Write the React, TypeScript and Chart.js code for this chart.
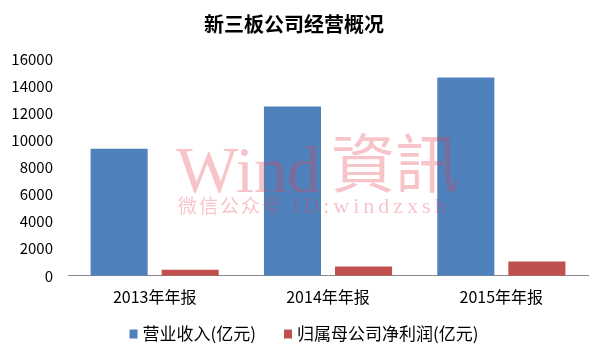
import React, { useEffect, useRef } from "react";
import { Chart, registerables } from "chart.js";

Chart.register(...registerables);

const title = "新三板公司经营概况";
const categories = ["2013年年报", "2014年年报", "2015年年报"];
const seriesNames = ["营业收入(亿元)", "归属母公司净利润(亿元)"];
const seriesColors = ["#4F81BD", "#C0504D"];
const revenue = [9370, 12490, 14630];
const netProfit = [450, 680, 1050];
const yTicks = [0, 2000, 4000, 6000, 8000, 10000, 12000, 14000, 16000];
const watermarkLatin = "Wind";
const watermarkCJK = "資訊";
const watermarkSubCJK = "微信公众号";
const watermarkSubLatin = "ID:windzxsh";

const FONT = "'Noto Sans CJK SC', 'Noto Sans', sans-serif";

const watermark = {
  id: "watermark",
  afterDatasetsDraw(chart: any) {
    const ctx = chart.ctx;
    ctx.save();
    ctx.fillStyle = "rgba(230,60,80,0.3)";
    ctx.textAlign = "left";
    ctx.textBaseline = "alphabetic";
    ctx.font = "66px 'Liberation Serif', serif";
    ctx.fillText(watermarkLatin, 176, 192);
    ctx.font = "64px 'Noto Sans CJK TC', sans-serif";
    ctx.fillText(watermarkCJK, 331, 187);
    ctx.font = "19px 'Noto Sans CJK SC', sans-serif";
    (ctx as any).letterSpacing = "2px";
    ctx.fillText(watermarkSubCJK, 178, 213);
    const cjkW = ctx.measureText(watermarkSubCJK).width;
    ctx.font = "22px 'Liberation Serif', serif";
    (ctx as any).letterSpacing = "4px";
    ctx.fillText(watermarkSubLatin, Math.max(292, 178 + cjkW + 2), 213);
    (ctx as any).letterSpacing = "0px";
    ctx.restore();
  },
};

const customLegend = {
  id: "customLegend",
  afterDraw(chart: any) {
    const ctx = chart.ctx;
    ctx.save();
    ctx.font = `17px ${FONT}`;
    ctx.textBaseline = "middle";
    ctx.textAlign = "left";
    const box = 8;
    const gapText = 5;
    const gapItem = 28;
    const widths = seriesNames.map((n) => ctx.measureText(n).width);
    const total = widths.reduce((a, w) => a + box + gapText + w, 0) + gapItem * (seriesNames.length - 1);
    let x = chart.width / 2 + 4 - total / 2;
    const y = 334;
    seriesNames.forEach((name, i) => {
      ctx.fillStyle = seriesColors[i];
      ctx.fillRect(x, y - 4.5, box, 9);
      x += box + gapText;
      ctx.fillStyle = "#000";
      ctx.fillText(name, x, y);
      x += widths[i] + gapItem;
    });
    ctx.restore();
  },
};

export default function App() {
  const ref = useRef<HTMLCanvasElement>(null);
  useEffect(() => {
    if (!ref.current) return;
    const chart = new Chart(ref.current, {
      type: "bar",
      data: {
        labels: categories,
        datasets: [
          {
            label: seriesNames[0],
            data: revenue,
            backgroundColor: seriesColors[0],
            categoryPercentage: 0.82,
            barPercentage: 0.803,
          },
          {
            label: seriesNames[1],
            data: netProfit,
            backgroundColor: seriesColors[1],
            categoryPercentage: 0.82,
            barPercentage: 0.803,
          },
        ],
      },
      options: {
        animation: false,
        responsive: false,
        maintainAspectRatio: false,
        layout: { padding: { left: 0, right: 12, top: 0, bottom: 41 } },
        plugins: {
          title: {
            display: true,
            text: title,
            color: "#000",
            font: { family: FONT, size: 20, weight: "bold" },
            padding: { top: 12, bottom: 23 },
          },
          legend: { display: false },
          tooltip: { enabled: false },
        },
        scales: {
          x: {
            grid: { display: false, drawTicks: false },
            border: { display: true, color: "#888", width: 1 },
            ticks: { color: "#000", padding: 12, font: { family: FONT, size: 16 } },
          },
          y: {
            min: 0,
            max: 16000,
            afterFit: (s: any) => {
              s.width = 68;
            },
            afterBuildTicks: (s: any) => {
              s.ticks = yTicks.map((v) => ({ value: v }));
            },
            grid: { display: false, drawTicks: false },
            border: { display: false },
            ticks: {
              color: "#000",
              padding: 15,
              font: { family: FONT, size: 15 },
              callback: (v: any) => String(v),
            },
          },
        },
      },
      plugins: [watermark, customLegend],
    });
    return () => chart.destroy();
  }, []);
  return (
    <div style={{ position: "fixed", left: 0, top: 0, width: 600, height: 360, background: "#fff" }}>
      <canvas ref={ref} width={600} height={360} />
    </div>
  );
}
